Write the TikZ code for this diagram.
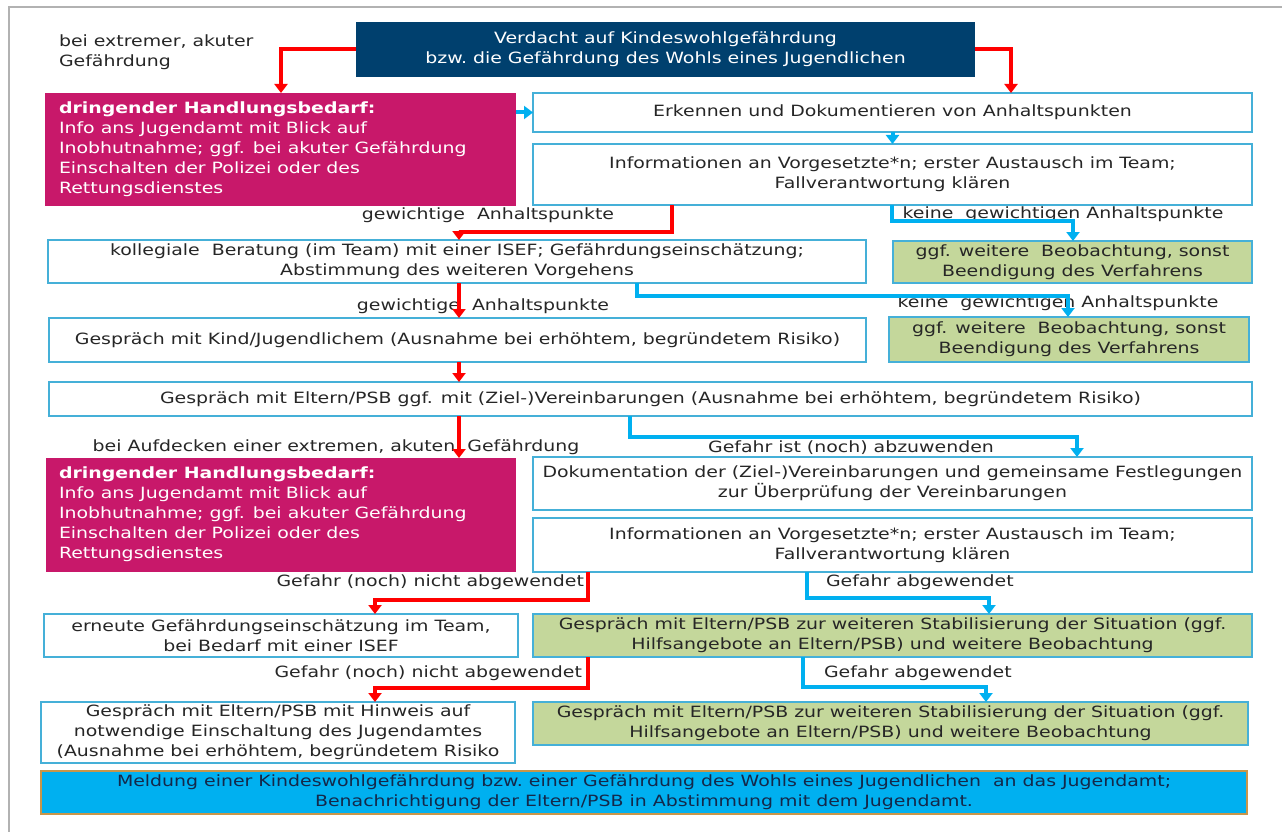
\documentclass[tikz,border=0pt]{standalone}
\usepackage{fontspec}
\setmainfont{DejaVu Sans}[FakeStretch=1.22]
\usetikzlibrary{arrows.meta}
\definecolor{navy}{HTML}{00406E}
\definecolor{berry}{HTML}{C8186A}
\definecolor{rahmen}{HTML}{45B0D8}
\definecolor{oliv}{HTML}{C4D79B}
\definecolor{pfeilrot}{HTML}{FF0000}
\definecolor{pfeilblau}{HTML}{00B0F0}
\definecolor{ocker}{HTML}{C8964A}
\definecolor{schrift}{HTML}{262626}
\definecolor{meldtext}{HTML}{14284A}
\begin{document}
\begin{tikzpicture}[x=1pt,y=-1pt,
	every node/.style={font=\fontsize{15.5}{20}\selectfont,text=schrift,inner sep=0pt,outer sep=0pt},
	kasten/.style={draw=rahmen,line width=1.4pt,fill=white,anchor=north west,align=center},
	gruen/.style={kasten,fill=oliv},
	dringend/.style={fill=berry,anchor=north west,align=left,text=white,text depth=0pt},
	rot/.style={draw=pfeilrot,line width=4pt,-{Triangle[width=13pt,length=9pt]}},
	blau/.style={draw=pfeilblau,line width=4pt,-{Triangle[width=13pt,length=9pt]}}]
	\useasboundingbox (0,0) rectangle (1282,832);
	% Rahmen
	\draw[gray!60,line width=1.2pt] (1282,7) -- (9,7) -- (9,832);
	% Kaesten
	\node[fill=navy,anchor=north west,minimum width=619pt,minimum height=55pt,align=center,text=white] (verdacht) at (356,22)
		{Verdacht auf Kindeswohlgefährdung\\bzw.\ die Gefährdung des Wohls eines Jugendlichen};
	\node[anchor=west,align=left] (extrem) at (59,52) {bei extremer, akuter\\Gefährdung};
	\node[dringend,minimum width=471pt,minimum height=113pt] (hb1) at (45,93) {};
	\node[anchor=north west,align=left,text=white] at ([shift={(14,9)}]hb1.north west)
		{\textbf{dringender Handlungsbedarf:}\\Info ans Jugendamt mit Blick auf\\Inobhutnahme; ggf. bei akuter Gefährdung\\Einschalten der Polizei oder des\\Rettungsdienstes};
	\node[kasten,minimum width=719pt,minimum height=39pt] (erkennen) at (533,93)
		{Erkennen und Dokumentieren von Anhaltspunkten};
	\node[kasten,minimum width=719pt,minimum height=61pt] (info1) at (533,144)
		{Informationen an Vorgesetzte*n; erster Austausch im Team;\\Fallverantwortung klären};
	\node[kasten,minimum width=818pt,minimum height=43pt] (koll) at (48,240)
		{kollegiale\ \ Beratung (im Team) mit einer ISEF; Gefährdungseinschätzung;\\Abstimmung des weiteren Vorgehens};
	\node[gruen,minimum width=359pt,minimum height=42pt] (gruen1) at (893,241)
		{ggf. weitere\ \ Beobachtung, sonst\\Beendigung des Verfahrens};
	\node[kasten,minimum width=817pt,minimum height=44pt] (kind) at (49,318)
		{Gespräch mit Kind/Jugendlichem (Ausnahme bei erhöhtem, begründetem Risiko)};
	\node[gruen,minimum width=360pt,minimum height=45pt] (gruen2) at (889,317)
		{ggf. weitere\ \ Beobachtung, sonst\\Beendigung des Verfahrens};
	\node[kasten,minimum width=1203pt,minimum height=34pt] (eltern) at (49,382)
		{Gespräch mit Eltern/PSB ggf. mit (Ziel-)Vereinbarungen (Ausnahme bei erhöhtem, begründetem Risiko)};
	\node[dringend,minimum width=470pt,minimum height=114pt] (hb2) at (46,458) {};
	\node[anchor=north west,align=left,text=white] at ([shift={(13,9)}]hb2.north west)
		{\textbf{dringender Handlungsbedarf:}\\Info ans Jugendamt mit Blick auf\\Inobhutnahme; ggf. bei akuter Gefährdung\\Einschalten der Polizei oder des\\Rettungsdienstes};
	\node[kasten,minimum width=719pt,minimum height=53pt] (doku) at (533,457)
		{Dokumentation der (Ziel-)Vereinbarungen und gemeinsame Festlegungen\\zur Überprüfung der Vereinbarungen};
	\node[kasten,minimum width=719pt,minimum height=54pt] (info2) at (533,518)
		{Informationen an Vorgesetzte*n; erster Austausch im Team;\\Fallverantwortung klären};
	\node[kasten,minimum width=474pt,minimum height=43pt] (erneut) at (44,614)
		{erneute Gefährdungseinschätzung im Team,\\bei Bedarf mit einer ISEF};
	\node[gruen,minimum width=719pt,minimum height=43pt] (gruen3) at (533,614)
		{Gespräch mit Eltern/PSB zur weiteren Stabilisierung der Situation (ggf.\\Hilfsangebote an Eltern/PSB) und weitere Beobachtung};
	\node[kasten,minimum width=474pt,minimum height=61pt] (hinweis) at (41,702)
		{Gespräch mit Eltern/PSB mit Hinweis auf\\notwendige Einschaltung des Jugendamtes\\(Ausnahme bei erhöhtem, begründetem Risiko};
	\node[gruen,minimum width=715pt,minimum height=43pt] (gruen4) at (533,702)
		{Gespräch mit Eltern/PSB zur weiteren Stabilisierung der Situation (ggf.\\Hilfsangebote an Eltern/PSB) und weitere Beobachtung};
	\node[kasten,draw=ocker,fill=pfeilblau,text=meldtext,minimum width=1206pt,minimum height=43pt] (meldung) at (41,771)
		{Meldung einer Kindeswohlgefährdung bzw.\ einer Gefährdung des Wohls eines Jugendlichen\ \ an das Jugendamt;\\Benachrichtigung der Eltern/PSB in Abstimmung mit dem Jugendamt.};
	% Beschriftungen
	\node (l1) at (488,215) {gewichtige\ \ Anhaltspunkte};
	\node (l2) at (1063,214) {keine\ \ gewichtigen Anhaltspunkte};
	\node (l3) at (483,306) {gewichtige\ \ Anhaltspunkte};
	\node (l4) at (1058,303) {keine\ \ gewichtigen Anhaltspunkte};
	\node (l5) at (336,447) {bei Aufdecken einer extremen, akuten\ \ Gefährdung};
	\node (l6) at (851,448) {Gefahr ist (noch) abzuwenden};
	\node[anchor=east] (l7) at (584,582) {Gefahr (noch) nicht abgewendet};
	\node[anchor=west] (l8) at (826,582) {Gefahr abgewendet};
	\node[anchor=east] (l9) at (582,673) {Gefahr (noch) nicht abgewendet};
	\node[anchor=west] (l10) at (824,673) {Gefahr abgewendet};
	% Pfeile
	\draw[rot] (verdacht.west) -| (hb1.north -| 281,0);
	\draw[rot] (verdacht.east) -| (erkennen.north -| 1011,0);
	\draw[blau] (hb1.east |- erkennen.west) -- (erkennen.west);
	\draw[blau] (erkennen.south) -- (info1.north);
	\draw[rot] (info1.south -| 672,0) -- (672,232) -| (koll.north -| 459,0);
	\draw[blau] (info1.south -| 892,0) -- (892,221) -| (gruen1.north -| 1073,0);
	\draw[rot] (koll.south -| 459,0) -- (kind.north -| 459,0);
	\draw[blau] (koll.south -| 637,0) -- (637,296) -| (gruen2.north -| 1068,0);
	\draw[rot] (kind.south -| 459,0) -- (eltern.north -| 459,0);
	\draw[rot] (eltern.south -| 459,0) -- (hb2.north -| 459,0);
	\draw[blau] (eltern.south -| 630,0) -- (630,437) -| (doku.north -| 1077,0);
	\draw[rot] (info2.south -| 588,0) -- (588,600) -| (erneut.north -| 375,0);
	\draw[blau] (info2.south -| 807,0) -- (807,598) -| (gruen3.north -| 989,0);
	\draw[rot] (gruen3.south -| 588,0) -- (588,688) -| (hinweis.north -| 375,0);
	\draw[blau] (gruen3.south -| 803,0) -- (803,687) -| (gruen4.north -| 986,0);
\end{tikzpicture}
\end{document}
